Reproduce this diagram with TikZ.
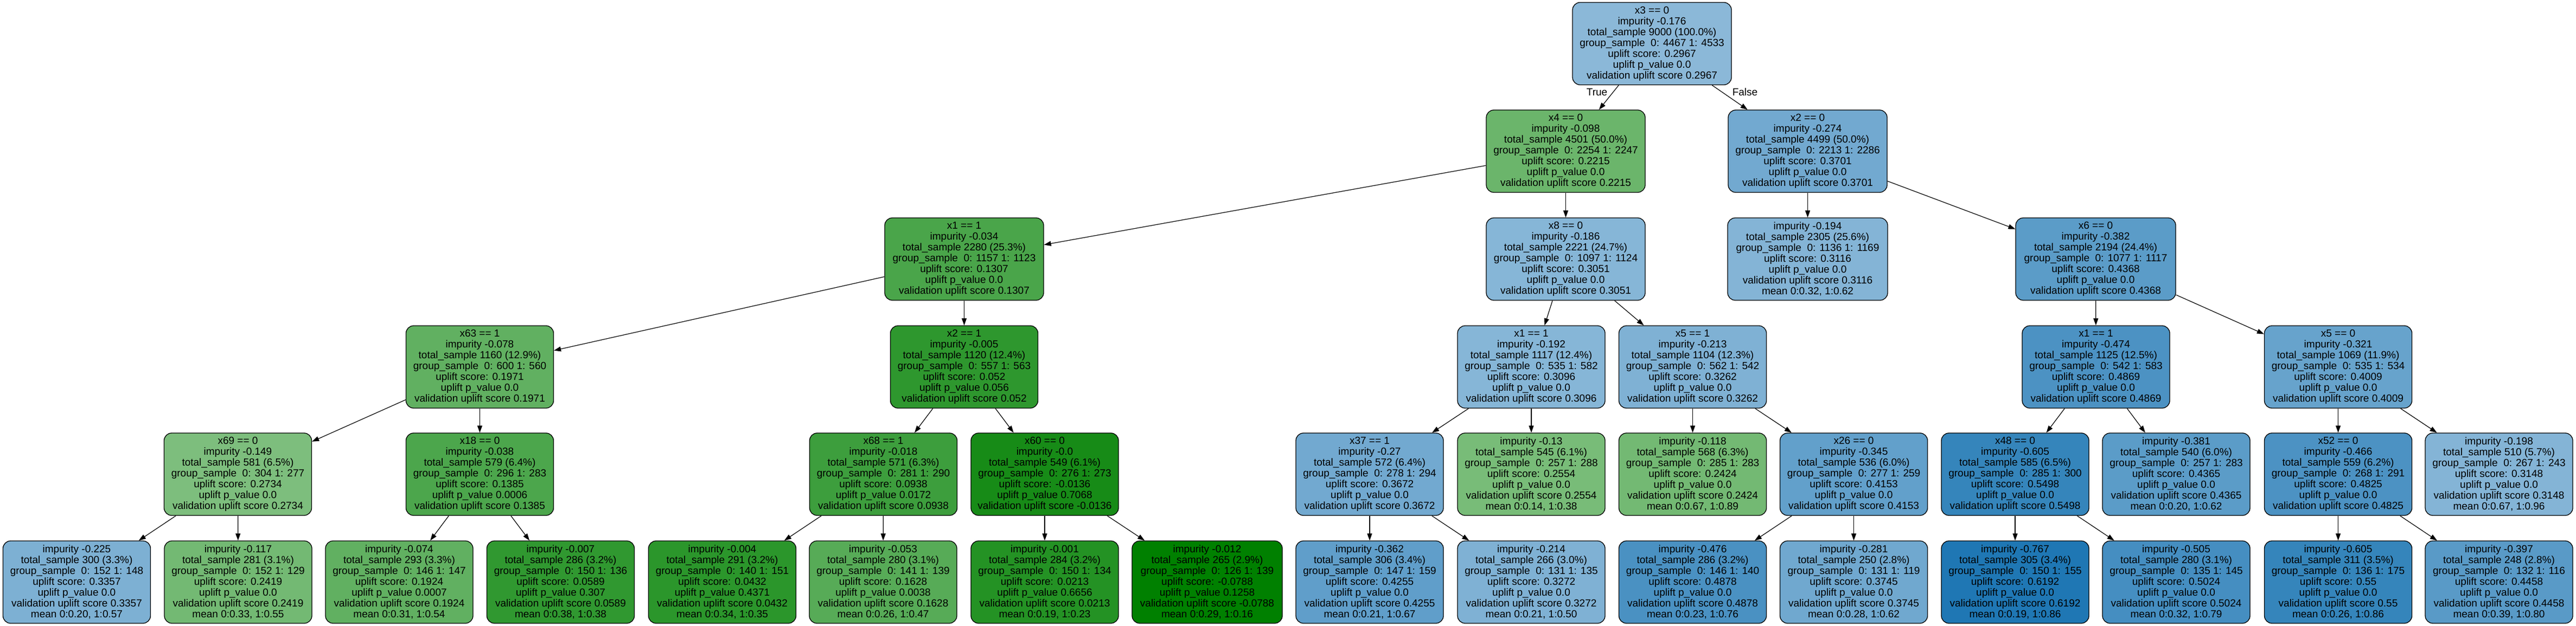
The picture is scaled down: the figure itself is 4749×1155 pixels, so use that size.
\documentclass[tikz,border=0pt]{standalone}
\usepackage{fontspec}
\setmainfont{Liberation Sans}
\usetikzlibrary{arrows.meta}
\definecolor{cb}{HTML}{1F77B4}
\definecolor{cg}{HTML}{008000}
\newcommand{\NodeI}[8]{#1\\impurity #2\\total\_sample #3\\group\_sample\ \ 0: #4 1: #5\\uplift score: #6\\uplift p\_value #7\\validation uplift score #8}
\newcommand{\NodeL}[8]{impurity #1\\total\_sample #2\\group\_sample\ \ 0: #3 1: #4\\uplift score: #5\\uplift p\_value #6\\validation uplift score #7\\mean #8}
\tikzset{
  tn/.style={draw=black, line width=1.3pt, rounded corners=14pt, minimum height=152pt,
    minimum width=272pt, inner xsep=4pt, inner ysep=0pt, align=center,
    font=\fontsize{19}{20}\selectfont},
  wide/.style={minimum width=293pt},
  edge/.style={-{Triangle[length=13pt,width=9pt]}, line width=1.2pt, black},
  lbl/.style={font=\fontsize{19}{20}\selectfont, inner sep=0pt}
}
\begin{document}
\begin{tikzpicture}[x=1pt,y=-1pt]
\useasboundingbox (0,0) rectangle (4749,1155);
\fill[white] (0,0) rectangle (4749,1155);
% level 0
\node[tn,wide,fill=cb!52!white] (n0) at (3045.5,80.5) {\NodeI{x3 == 0}{-0.176}{9000 (100.0\%)}{4467}{4533}{0.2967}{0.0}{0.2967}};
% level 1
\node[tn,wide,fill=cg!58!white] (n1) at (2886.5,279) {\NodeI{x4 == 0}{-0.098}{4501 (50.0\%)}{2254}{2247}{0.2215}{0.0}{0.2215}};
\node[tn,wide,fill=cb!63!white] (n2) at (3332.5,279) {\NodeI{x2 == 0}{-0.274}{4499 (50.0\%)}{2213}{2286}{0.3701}{0.0}{0.3701}};
% level 2
\node[tn,wide,fill=cg!71!white] (n3) at (1777.5,478) {\NodeI{x1 == 1}{-0.034}{2280 (25.3\%)}{1157}{1123}{0.1307}{0.0}{0.1307}};
\node[tn,wide,fill=cb!54!white] (n4) at (2886.5,478) {\NodeI{x8 == 0}{-0.186}{2221 (24.7\%)}{1097}{1124}{0.3051}{0.0}{0.3051}};
\node[tn,wide,minimum width=295pt,fill=cb!55!white] (n5) at (3332.5,478) {\NodeL{-0.194}{2305 (25.6\%)}{1136}{1169}{0.3116}{0.0}{0.3116}{0:0.32, 1:0.62}};
\node[tn,wide,minimum width=295pt,fill=cb!73!white] (n6) at (3863.5,478) {\NodeI{x6 == 0}{-0.382}{2194 (24.4\%)}{1077}{1117}{0.4368}{0.0}{0.4368}};
% level 3
\node[tn,fill=cg!62!white] (n7) at (884.5,677) {\NodeI{x63 == 1}{-0.078}{1160 (12.9\%)}{600}{560}{0.1971}{0.0}{0.1971}};
\node[tn,fill=cg!82!white] (n8) at (1777.5,677) {\NodeI{x2 == 1}{-0.005}{1120 (12.4\%)}{557}{563}{0.052}{0.056}{0.052}};
\node[tn,fill=cb!54!white] (n9) at (2823,677) {\NodeI{x1 == 1}{-0.192}{1117 (12.4\%)}{535}{582}{0.3096}{0.0}{0.3096}};
\node[tn,fill=cb!57!white] (n10) at (3120.5,677) {\NodeI{x5 == 1}{-0.213}{1104 (12.3\%)}{562}{542}{0.3262}{0.0}{0.3262}};
\node[tn,fill=cb!80!white] (n11) at (3864,677) {\NodeI{x1 == 1}{-0.474}{1125 (12.5\%)}{542}{583}{0.4869}{0.0}{0.4869}};
\node[tn,fill=cb!68!white] (n12) at (4310.5,677) {\NodeI{x5 == 0}{-0.321}{1069 (11.9\%)}{535}{534}{0.4009}{0.0}{0.4009}};
% level 4
\node[tn,fill=cg!51!white] (n13) at (438.5,875) {\NodeI{x69 == 0}{-0.149}{581 (6.5\%)}{304}{277}{0.2734}{0.0}{0.2734}};
\node[tn,fill=cg!70!white] (n14) at (884.5,875) {\NodeI{x18 == 0}{-0.038}{579 (6.4\%)}{296}{283}{0.1385}{0.0006}{0.1385}};
\node[tn,fill=cg!76!white] (n15) at (1628.5,875) {\NodeI{x68 == 1}{-0.018}{571 (6.3\%)}{281}{290}{0.0938}{0.0172}{0.0938}};
\node[tn,fill=cg!91!white] (n16) at (1926,875) {\NodeI{x60 == 0}{-0.0}{549 (6.1\%)}{276}{273}{-0.0136}{0.7068}{-0.0136}};
\node[tn,fill=cb!63!white] (n17) at (2525,875) {\NodeI{x37 == 1}{-0.27}{572 (6.4\%)}{278}{294}{0.3672}{0.0}{0.3672}};
\node[tn,fill=cg!53!white] (n18) at (2823,875) {\NodeL{-0.13}{545 (6.1\%)}{257}{288}{0.2554}{0.0}{0.2554}{0:0.14, 1:0.38}};
\node[tn,fill=cg!55!white] (n19) at (3120.5,875) {\NodeL{-0.118}{568 (6.3\%)}{285}{283}{0.2424}{0.0}{0.2424}{0:0.67, 1:0.89}};
\node[tn,fill=cb!70!white] (n20) at (3417.5,875) {\NodeI{x26 == 0}{-0.345}{536 (6.0\%)}{277}{259}{0.4153}{0.0}{0.4153}};
\node[tn,fill=cb!90!white] (n21) at (3715,875) {\NodeI{x48 == 0}{-0.605}{585 (6.5\%)}{285}{300}{0.5498}{0.0}{0.5498}};
\node[tn,fill=cb!73!white] (n22) at (4012,875) {\NodeL{-0.381}{540 (6.0\%)}{257}{283}{0.4365}{0.0}{0.4365}{0:0.20, 1:0.62}};
\node[tn,fill=cb!80!white] (n23) at (4310.5,875) {\NodeI{x52 == 0}{-0.466}{559 (6.2\%)}{268}{291}{0.4825}{0.0}{0.4825}};
\node[tn,fill=cb!55!white] (n24) at (4607,875) {\NodeL{-0.198}{510 (5.7\%)}{267}{243}{0.3148}{0.0}{0.3148}{0:0.67, 1:0.96}};
% level 5
\node[tn,fill=cb!58!white] (l1) at (141.5,1074) {\NodeL{-0.225}{300 (3.3\%)}{152}{148}{0.3357}{0.0}{0.3357}{0:0.20, 1:0.57}};
\node[tn,fill=cg!55!white] (l2) at (439,1074) {\NodeL{-0.117}{281 (3.1\%)}{152}{129}{0.2419}{0.0}{0.2419}{0:0.33, 1:0.55}};
\node[tn,fill=cg!62!white] (l3) at (736,1074) {\NodeL{-0.074}{293 (3.3\%)}{146}{147}{0.1924}{0.0007}{0.1924}{0:0.31, 1:0.54}};
\node[tn,fill=cg!81!white] (l4) at (1033.5,1074) {\NodeL{-0.007}{286 (3.2\%)}{150}{136}{0.0589}{0.307}{0.0589}{0:0.38, 1:0.38}};
\node[tn,fill=cg!83!white] (l5) at (1331.5,1074) {\NodeL{-0.004}{291 (3.2\%)}{140}{151}{0.0432}{0.4371}{0.0432}{0:0.34, 1:0.35}};
\node[tn,fill=cg!66!white] (l6) at (1628,1074) {\NodeL{-0.053}{280 (3.1\%)}{141}{139}{0.1628}{0.0038}{0.1628}{0:0.26, 1:0.47}};
\node[tn,fill=cg!86!white] (l7) at (1926,1074) {\NodeL{-0.001}{284 (3.2\%)}{150}{134}{0.0213}{0.6656}{0.0213}{0:0.19, 1:0.23}};
\node[tn,minimum width=277pt,fill=cg] (l8) at (2225.5,1074) {\NodeL{-0.012}{265 (2.9\%)}{126}{139}{-0.0788}{0.1258}{-0.0788}{0:0.29, 1:0.16}};
\node[tn,fill=cb!71!white] (l9) at (2525,1074) {\NodeL{-0.362}{306 (3.4\%)}{147}{159}{0.4255}{0.0}{0.4255}{0:0.21, 1:0.67}};
\node[tn,fill=cb!57!white] (l10) at (2823,1074) {\NodeL{-0.214}{266 (3.0\%)}{131}{135}{0.3272}{0.0}{0.3272}{0:0.21, 1:0.50}};
\node[tn,fill=cb!81!white] (l11) at (3120.5,1074) {\NodeL{-0.476}{286 (3.2\%)}{146}{140}{0.4878}{0.0}{0.4878}{0:0.23, 1:0.76}};
\node[tn,fill=cb!64!white] (l12) at (3417.5,1074) {\NodeL{-0.281}{250 (2.8\%)}{131}{119}{0.3745}{0.0}{0.3745}{0:0.28, 1:0.62}};
\node[tn,fill=cb] (l13) at (3715,1074) {\NodeL{-0.767}{305 (3.4\%)}{150}{155}{0.6192}{0.0}{0.6192}{0:0.19, 1:0.86}};
\node[tn,fill=cb!83!white] (l14) at (4012,1074) {\NodeL{-0.505}{280 (3.1\%)}{135}{145}{0.5024}{0.0}{0.5024}{0:0.32, 1:0.79}};
\node[tn,fill=cb!90!white] (l15) at (4310.5,1074) {\NodeL{-0.605}{311 (3.5\%)}{136}{175}{0.55}{0.0}{0.55}{0:0.26, 1:0.86}};
\node[tn,fill=cb!74!white] (l16) at (4607,1074) {\NodeL{-0.397}{248 (2.8\%)}{132}{116}{0.4458}{0.0}{0.4458}{0:0.39, 1:0.80}};
% edge labels
\node[lbl] (tTrue) at (2944,170) {True};
\node[lbl] (tFalse) at (3217,170) {False};
% edges
\draw[edge] (n0) -- (n1);
\draw[edge] (n0) -- (n2);
\draw[edge] (n1) -- (n3);
\draw[edge] (n1) -- (n4);
\draw[edge] (n2) -- (n5);
\draw[edge] (n2) -- (n6);
\draw[edge] (n3) -- (n7);
\draw[edge] (n3) -- (n8);
\draw[edge] (n4) -- (n9);
\draw[edge] (n4) -- (n10);
\draw[edge] (n6) -- (n11);
\draw[edge] (n6) -- (n12);
\draw[edge] (n7) -- (n13);
\draw[edge] (n7) -- (n14);
\draw[edge] (n8) -- (n15);
\draw[edge] (n8) -- (n16);
\draw[edge] (n9) -- (n17);
\draw[edge] (n9) -- (n18);
\draw[edge] (n10) -- (n19);
\draw[edge] (n10) -- (n20);
\draw[edge] (n11) -- (n21);
\draw[edge] (n11) -- (n22);
\draw[edge] (n12) -- (n23);
\draw[edge] (n12) -- (n24);
\draw[edge] (n13) -- (l1);
\draw[edge] (n13) -- (l2);
\draw[edge] (n14) -- (l3);
\draw[edge] (n14) -- (l4);
\draw[edge] (n15) -- (l5);
\draw[edge] (n15) -- (l6);
\draw[edge] (n16) -- (l7);
\draw[edge] (n16) -- (l8);
\draw[edge] (n17) -- (l9);
\draw[edge] (n17) -- (l10);
\draw[edge] (n20) -- (l11);
\draw[edge] (n20) -- (l12);
\draw[edge] (n21) -- (l13);
\draw[edge] (n21) -- (l14);
\draw[edge] (n23) -- (l15);
\draw[edge] (n23) -- (l16);
\end{tikzpicture}
\end{document}
